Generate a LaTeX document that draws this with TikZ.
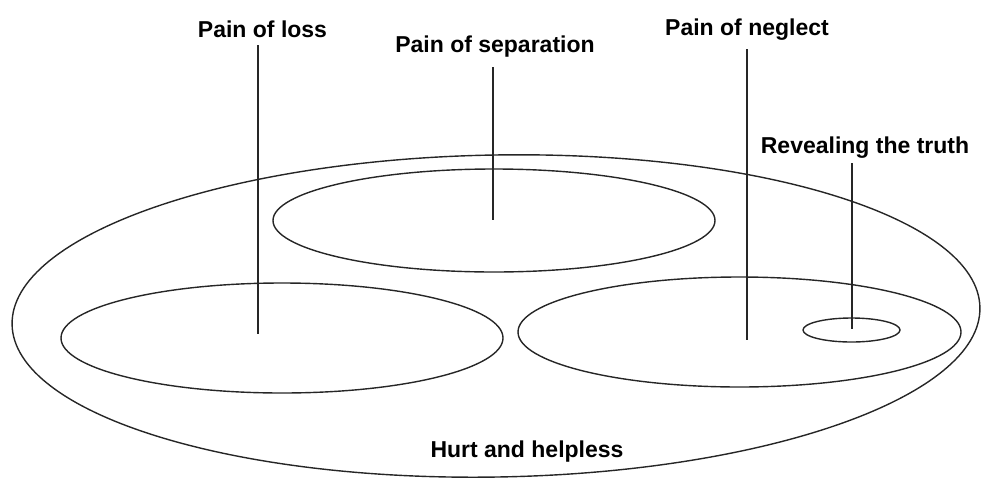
\documentclass[tikz,border=0pt]{standalone}
\usepackage{fontspec}
\setmainfont{Liberation Sans}
\usetikzlibrary{shapes.geometric}
\begin{document}
\begin{tikzpicture}[x=1pt,y=-1pt,
  ringshape/.style={draw=black!85, line width=1.4pt, ellipse, inner sep=0pt, outer sep=0pt},
  lbl/.style={font=\fontsize{23}{26}\selectfont\bfseries, anchor=base, inner sep=0pt, text=black},
  stemline/.style={draw=black!85, line width=1.4pt}]
\useasboundingbox (0,0) rectangle (983,480);
% ellipses
\node[ringshape, minimum width=968pt, minimum height=322pt, rotate=1] (outer) at (496,316) {};
\node[ringshape, minimum width=442pt, minimum height=103pt] (sep) at (494,220.5) {};
\node[ringshape, minimum width=442pt, minimum height=110pt] (loss) at (282,338) {};
\node[ringshape, minimum width=443pt, minimum height=110pt] (neglect) at (739.5,332) {};
\node[ringshape, minimum width=97pt, minimum height=24pt] (truth) at (851.5,330) {};
% labels
\node[lbl] (tloss) at (262.5,37) {Pain of loss};
\node[lbl] (tsep) at (495,52) {Pain of separation};
\node[lbl] (tneg) at (747,35) {Pain of neglect};
\node[lbl] (ttruth) at (865,153) {Revealing the truth};
\node[lbl] (thurt) at (527,457) {Hurt and helpless};
% stems
\coordinate (a1) at (258,45);  \coordinate (a2) at (258,334);
\coordinate (b1) at (493,67);  \coordinate (b2) at (493,220);
\coordinate (c1) at (747,49);  \coordinate (c2) at (747,340);
\coordinate (d1) at (852,163); \coordinate (d2) at (852,329);
\draw[stemline] (a1) -- (a2);
\draw[stemline] (b1) -- (b2);
\draw[stemline] (c1) -- (c2);
\draw[stemline] (d1) -- (d2);
\end{tikzpicture}
\end{document}
